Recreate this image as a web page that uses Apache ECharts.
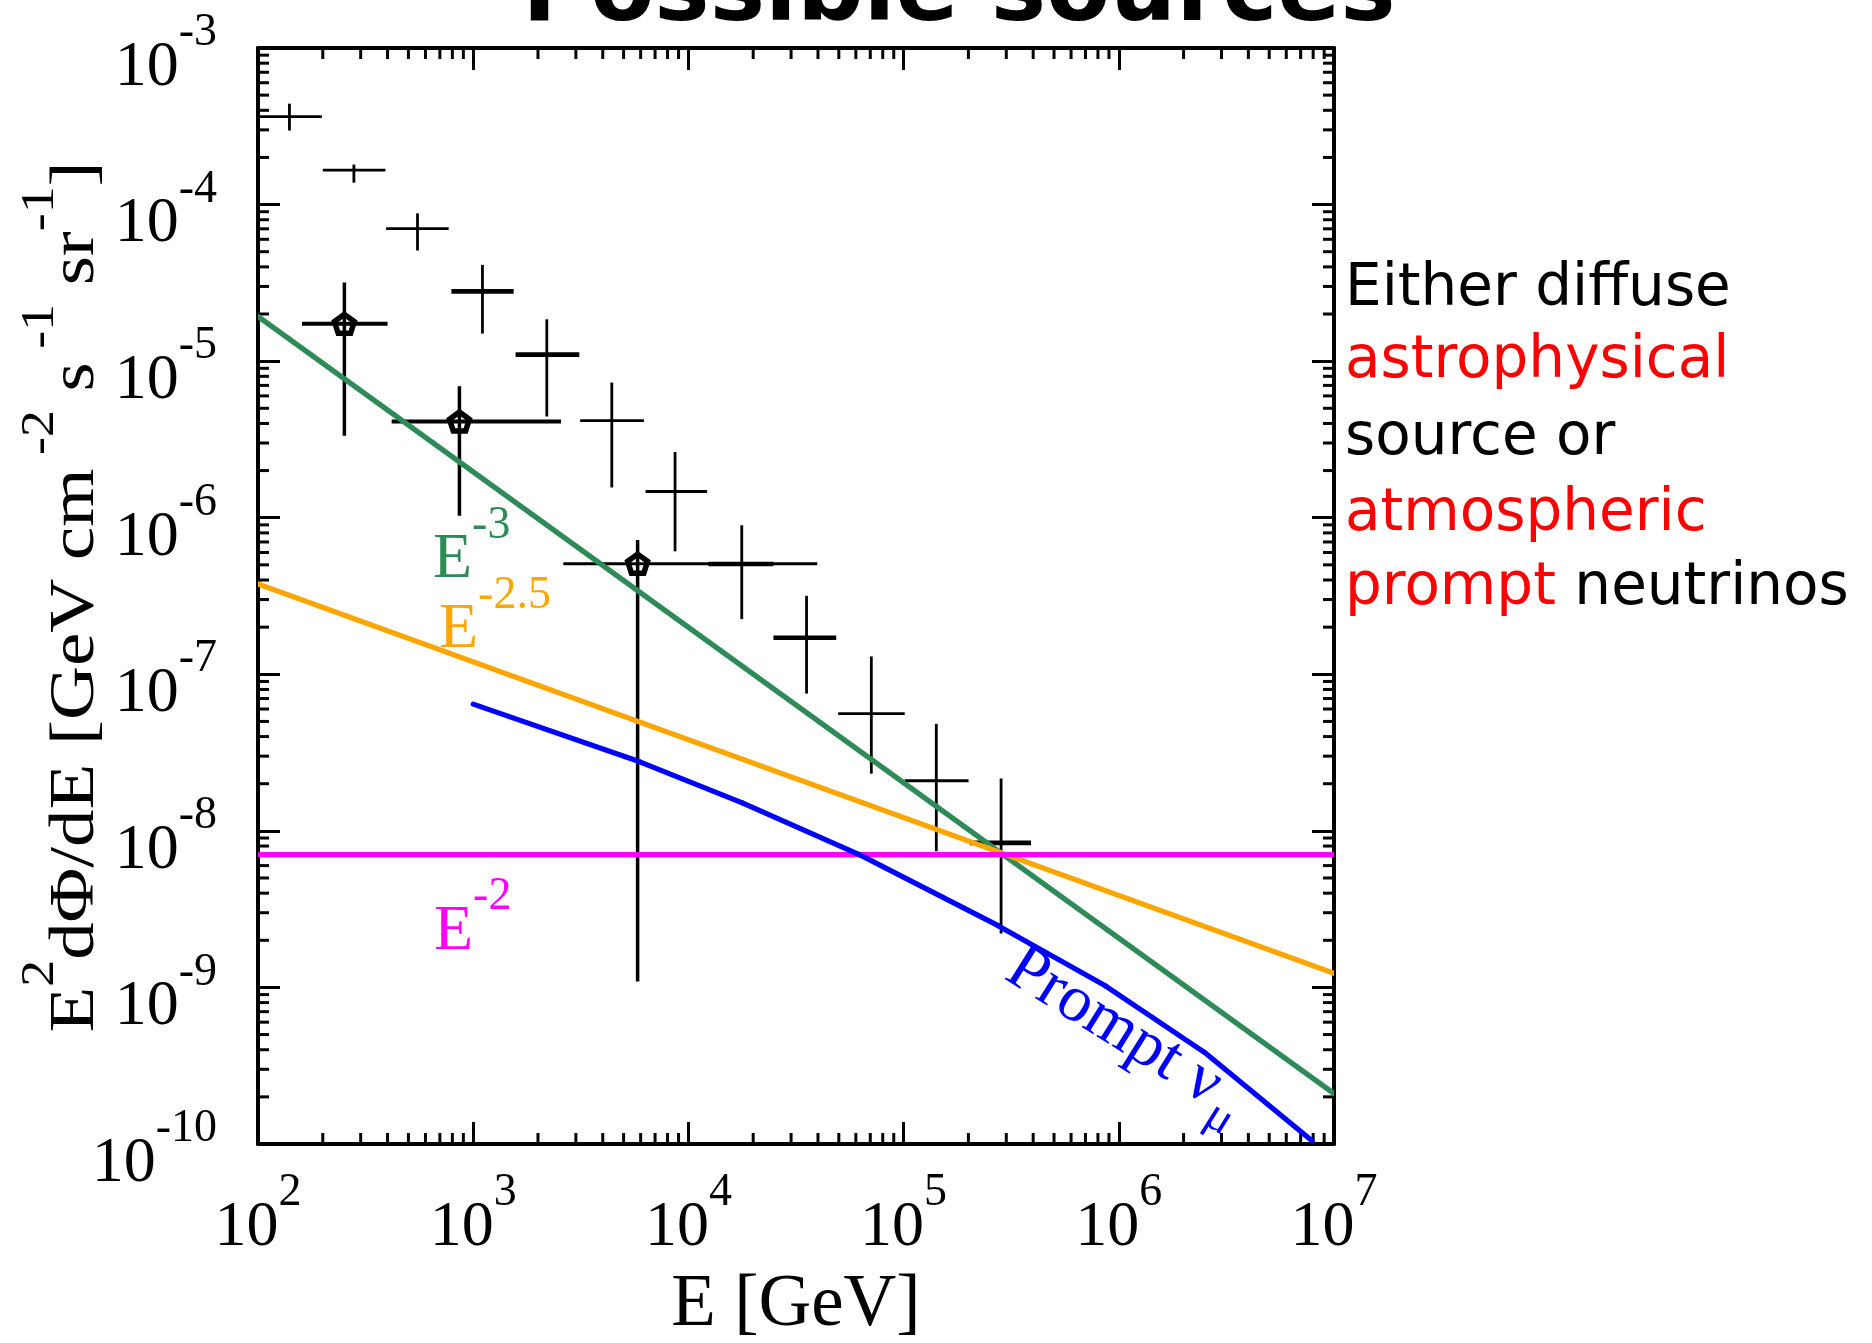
<!DOCTYPE html>
<html><head><meta charset="utf-8">
<script src="https://cdn.jsdelivr.net/npm/echarts@6/dist/echarts.min.js"></script>
<style>html,body{margin:0;padding:0;background:#fff}#c{width:1872px;height:1343px}</style>
</head><body><div id="c"></div>
<script>
// ---- data ----
// Atmospheric unfolded spectrum (crosses)
const atmE    = [140, 279, 551, 1104, 2198, 4406, 8670, 17700, 35400, 70800, 141900, 283800];
const atmElo  = [100, 200, 394, 792, 1574, 3141, 6324, 12390, 24830, 49660, 101200, 203200];
const atmEhi  = [198, 391, 769, 1542, 3112, 6209, 12220, 24830, 48640, 101200, 200400, 390800];
const atmFlux = [3.64e-4, 1.66e-4, 7.02e-5, 2.79e-5, 1.10e-5, 4.17e-6, 1.47e-6, 5.06e-7, 1.71e-7, 5.60e-8, 2.09e-8, 8.38e-9];
const atmFlo  = [2.97e-4, 1.38e-4, 5.09e-5, 1.50e-5, 4.43e-6, 1.56e-6, 6.10e-7, 2.25e-7, 7.53e-8, 2.32e-8, 7.41e-9, 2.21e-9];
const atmFhi  = [4.41e-4, 1.80e-4, 8.79e-5, 4.12e-5, 1.85e-5, 7.30e-6, 2.63e-6, 8.95e-7, 3.17e-7, 1.30e-7, 4.83e-8, 2.16e-8];
// Pentagon points
const penE    = [252, 863, 5808];
const penElo  = [160, 418, 2624];
const penEhi  = [400, 2559, 39720];
const penFlux = [1.73e-5, 4.12e-6, 5.09e-7];
const penFlo  = [3.34e-6, 1.03e-6, 1.09e-9];
const penFhi  = [3.18e-5, 6.90e-6, 7.21e-7];
// Power-law reference lines
const lineE3  = [[1e2, 1.93e-5], [1e7, 2.1e-10]];
const lineE25 = [[1e2, 3.78e-7], [1e7, 1.23e-9]];
const lineE2  = [[1e2, 7.05e-9], [1e7, 7.05e-9]];
// Prompt nu_mu curve
const promptE    = [1.0e3, 5.9e3, 1.78e4, 6.3e4, 2.75e5, 8.7e5, 2.5e6, 7.9e6];
const promptFlux = [6.45e-8, 2.77e-8, 1.51e-8, 7.0e-9, 2.48e-9, 1.02e-9, 3.85e-10, 1.05e-10];
// Axis ranges
const xRange = [1e2, 1e7];
const yRange = [1e-10, 1e-3];

// ---- styling ----
const SERIF = 'Liberation Serif';
const SANS = 'DejaVu Sans';
const GREEN = '#2E8B57', ORANGE = '#FFA500', MAGENTA = '#FF00FF', BLUE = '#0000FF', RED = '#FF0000';
const thickBars = [3, 4, 7, 8, 11];
const LW = 5.2;

const chart = echarts.init(document.getElementById('c'), null, {renderer: 'canvas'});

function supRich(color) {
  return {
    b: {fontFamily: SERIF, fontSize: 64, lineHeight: 90, verticalAlign: 'bottom', color: color, fill: color},
    s: {fontFamily: SERIF, fontSize: 46, lineHeight: 36, verticalAlign: 'top', color: color, fill: color}
  };
}
const powFmt = v => '{b|10}{s|' + Math.round(Math.log10(v)) + '}';

const minorTicks = [];
for (let n = 2; n < 7; n++) for (let k = 2; k < 10; k++) minorTicks.push([k * Math.pow(10, n), 1e-5, 0]);
for (let n = -10; n < -3; n++) for (let k = 2; k < 10; k++) minorTicks.push([1e3, k * Math.pow(10, n), 1]);

function barData(E, lo, hi, F, flo, fhi) {
  return E.map((e, i) => [e, F[i], lo[i], hi[i], flo[i], fhi[i]]);
}
function barRender(hWidthFn, vWidth) {
  return function (params, api) {
    const i = params.dataIndex;
    const c = api.coord([api.value(0), api.value(1)]);
    const l = api.coord([api.value(2), api.value(1)]);
    const r = api.coord([api.value(3), api.value(1)]);
    const lo = api.coord([api.value(0), api.value(4)]);
    const hi = api.coord([api.value(0), api.value(5)]);
    return {type: 'group', children: [
      {type: 'line', shape: {x1: l[0], y1: c[1], x2: r[0], y2: c[1]}, style: {stroke: '#000', lineWidth: hWidthFn(i)}},
      {type: 'line', shape: {x1: c[0], y1: hi[1], x2: c[0], y2: lo[1]}, style: {stroke: '#000', lineWidth: vWidth}}
    ]};
  };
}
// polyline series drawn through the axis scales (segment i -> i+1)
function curveSeries(name, pts, color) {
  return {
    type: 'custom', name: name, silent: true, clip: true, z: 3,
    encode: {x: 0, y: 1}, data: pts,
    renderItem: function (params, api) {
      const i = params.dataIndex;
      if (i >= pts.length - 1) return null;
      const a = api.coord(pts[i]), b = api.coord(pts[i + 1]);
      return {type: 'line', shape: {x1: a[0], y1: a[1], x2: b[0], y2: b[1]},
              style: {stroke: color, lineWidth: LW, lineCap: 'round'}};
    }
  };
}

const axisCommon = {
  type: 'log', logBase: 10,
  axisLine: {show: true, onZero: false, lineStyle: {color: '#000', width: 4}},
  axisTick: {show: true, inside: true, length: 22, lineStyle: {color: '#000', width: 3}},
  splitLine: {show: false}, minorTick: {show: false}, minorSplitLine: {show: false}
};

const option = {
  animation: false,
  backgroundColor: '#fff',
  grid: {left: 258, top: 48, width: 1076, height: 1096, containLabel: false, outerBoundsMode: 'none', show: false},
  xAxis: [
    Object.assign({}, axisCommon, {
      min: xRange[0], max: xRange[1], position: 'bottom',
      axisLabel: {formatter: powFmt, rich: supRich('#000'), margin: 12, padding: [14, 0, 0, 0]},
      name: 'E [GeV]', nameLocation: 'middle', nameGap: 125, nameMoveOverlap: false,
      nameTextStyle: {fontFamily: SERIF, fontSize: 73, color: '#000'}
    }),
    Object.assign({}, axisCommon, {min: xRange[0], max: xRange[1], position: 'top', axisLabel: {show: false}})
  ],
  yAxis: [
    Object.assign({}, axisCommon, {
      min: yRange[0], max: yRange[1], position: 'left',
      axisLabel: {formatter: powFmt, rich: supRich('#000'), margin: 41, padding: [14, 0, 0, 0]}
    }),
    Object.assign({}, axisCommon, {min: yRange[0], max: yRange[1], position: 'right', axisLabel: {show: false}})
  ],
  series: [
    {
      type: 'custom', name: 'minorTicks', silent: true, clip: false, z: 1,
      xAxisIndex: 0, yAxisIndex: 0, encode: {x: 0, y: 1},
      data: minorTicks,
      renderItem: function (params, api) {
        const cs = params.coordSys, L = 11, st = {stroke: '#000', lineWidth: 3};
        if (api.value(2) === 0) {
          const x = api.coord([api.value(0), 1e-5])[0];
          return {type: 'group', children: [
            {type: 'line', shape: {x1: x, y1: cs.y + cs.height, x2: x, y2: cs.y + cs.height - L}, style: st},
            {type: 'line', shape: {x1: x, y1: cs.y, x2: x, y2: cs.y + L}, style: st}
          ]};
        }
        const y = api.coord([1e3, api.value(1)])[1];
        return {type: 'group', children: [
          {type: 'line', shape: {x1: cs.x, y1: y, x2: cs.x + L, y2: y}, style: st},
          {type: 'line', shape: {x1: cs.x + cs.width, y1: y, x2: cs.x + cs.width - L, y2: y}, style: st}
        ]};
      }
    },
    {
      type: 'custom', name: 'atm', silent: true, clip: true, z: 2,
      encode: {x: [0, 2, 3], y: [1, 4, 5]},
      data: barData(atmE, atmElo, atmEhi, atmFlux, atmFlo, atmFhi),
      renderItem: barRender(i => thickBars.indexOf(i) >= 0 ? 4.6 : 2.8, 2.8)
    },
    {
      type: 'custom', name: 'pentagonBars', silent: true, clip: true, z: 2,
      encode: {x: [0, 2, 3], y: [1, 4, 5]},
      data: barData(penE, penElo, penEhi, penFlux, penFlo, penFhi),
      renderItem: barRender(i => i === 2 ? 3.0 : 4.0, 3.5)
    },
    curveSeries('E-3', lineE3, GREEN),
    curveSeries('E-2.5', lineE25, ORANGE),
    curveSeries('E-2', lineE2, MAGENTA),
    curveSeries('prompt', promptE.map((e, i) => [e, promptFlux[i]]), BLUE),
    {
      type: 'custom', name: 'pentagons', silent: true, clip: false, z: 5,
      encode: {x: 0, y: 1},
      data: penE.map((e, i) => [e, penFlux[i]]),
      renderItem: function (params, api) {
        const c = api.coord([api.value(0), api.value(1)]);
        const R = 10.5, pts = [];
        for (let k = 0; k < 5; k++) {
          const a = -Math.PI / 2 + k * 2 * Math.PI / 5;
          pts.push([c[0] + R * Math.cos(a), c[1] + 1 + R * Math.sin(a)]);
        }
        return {type: 'polygon', shape: {points: pts}, style: {fill: 'none', stroke: '#000', lineWidth: 5.5, lineJoin: 'miter'}};
      }
    }
  ],
  graphic: {elements: [
    {type: 'text', x: 959, y: -4, silent: true,
     style: {text: 'Possible sources', fontFamily: SANS, fontWeight: 'bold', fontSize: 93, fill: '#000', align: 'center', verticalAlign: 'middle'}},
    {type: 'text', x: 18, y: 597, rotation: Math.PI / 2, scaleX: 1.17, silent: true,
     style: {text: '{b|E}{s|2}{b|dΦ/dE [GeV cm}{s| -2}{b| s}{s| -1}{b| sr}{s|-1}{b|]}', rich: supRich('#000'),
             fill: '#000', align: 'center', verticalAlign: 'top'}},
    {type: 'text', x: 433, y: 502.5, silent: true,
     style: {text: '{b|E}{s|-3}', rich: supRich(GREEN), fill: GREEN, align: 'left', verticalAlign: 'top'}},
    {type: 'text', x: 439, y: 572.5, silent: true,
     style: {text: '{b|E}{s|-2.5}', rich: supRich(ORANGE), fill: ORANGE, align: 'left', verticalAlign: 'top'}},
    {type: 'text', x: 434, y: 873.8, silent: true,
     style: {text: '{b|E}{s|-2}', rich: supRich(MAGENTA), fill: MAGENTA, align: 'left', verticalAlign: 'top'}},
    {type: 'group', x: 1000, y: 982, rotation: -32 * Math.PI / 180, silent: true, children: [
      {type: 'text', x: 0, y: -22.3,
       style: {text: 'Prompt ν', fontFamily: SERIF, fontSize: 66, fill: BLUE, align: 'left', verticalAlign: 'middle'}},
      {type: 'text', x: 246, y: 0,
       style: {text: 'μ', fontFamily: SERIF, fontSize: 47, fill: BLUE, align: 'left', verticalAlign: 'middle'}}
    ]},
    {type: 'text', x: 1345, y: 289.5, silent: true,
     style: {text: 'Either diffuse', fontFamily: SANS, fontSize: 58, fill: '#000', align: 'left', verticalAlign: 'middle'}},
    {type: 'text', x: 1345, y: 362.3, silent: true,
     style: {text: 'astrophysical', fontFamily: SANS, fontSize: 58, fill: RED, align: 'left', verticalAlign: 'middle'}},
    {type: 'text', x: 1345, y: 438.5, silent: true,
     style: {text: 'source or', fontFamily: SANS, fontSize: 58, fill: '#000', align: 'left', verticalAlign: 'middle'}},
    {type: 'text', x: 1345, y: 514.6, silent: true,
     style: {text: 'atmospheric', fontFamily: SANS, fontSize: 58, fill: RED, align: 'left', verticalAlign: 'middle'}},
    {type: 'text', x: 1345, y: 589, silent: true,
     style: {text: '{r|prompt} {k|neutrinos}', fontFamily: SANS, fontSize: 58, fill: '#000', align: 'left', verticalAlign: 'middle',
             rich: {r: {fontFamily: SANS, fontSize: 58, fill: RED}, k: {fontFamily: SANS, fontSize: 58, fill: '#000'}}}}
  ]}
};
chart.setOption(option);
</script></body></html>
